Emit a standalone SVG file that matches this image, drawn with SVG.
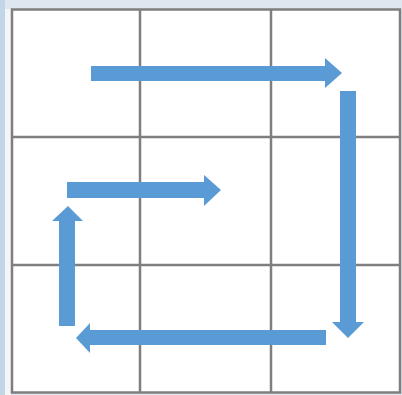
<svg xmlns="http://www.w3.org/2000/svg" width="402" height="395" viewBox="0 0 402 395">
<style>
.grid{fill:none;stroke:#7f7f7f;stroke-width:2.5}
.arrow{fill:#5b9bd5}
</style>
<rect x="0" y="0" width="402" height="395" fill="#dfe6ef"/>
<rect x="0" y="0" width="5" height="395" fill="#c3d6e8"/>
<rect x="5" y="9" width="6" height="386" fill="#f3f5f8"/>
<rect x="12" y="9" width="388" height="384" fill="#ffffff"/>
<g id="grid">
<rect class="grid" x="12" y="9.5" width="388" height="383"/>
<line class="grid" x1="140" y1="9" x2="140" y2="393"/>
<line class="grid" x1="271" y1="9" x2="271" y2="393"/>
<line class="grid" x1="12" y1="137" x2="400" y2="137"/>
<line class="grid" x1="12" y1="265" x2="400" y2="265"/>
</g>
<g id="connectors">
<polygon id="arrow-top" class="arrow" points="91,66 325,66 325,58 342,73 325,88 325,81 91,81"/>
<polygon id="arrow-right" class="arrow" points="340,91 356,91 356,322 364,322 348,338 332,322 340,322"/>
<polygon id="arrow-bottom" class="arrow" points="326,330 326,345 90,345 90,353 76,338 90,323 90,330"/>
<polygon id="arrow-left" class="arrow" points="59,326 59,221 52,221 68,206 83,221 75,221 75,326"/>
<polygon id="arrow-middle" class="arrow" points="67,182 204,182 204,175 221,190 204,206 204,198 67,198"/>
</g>
</svg>
